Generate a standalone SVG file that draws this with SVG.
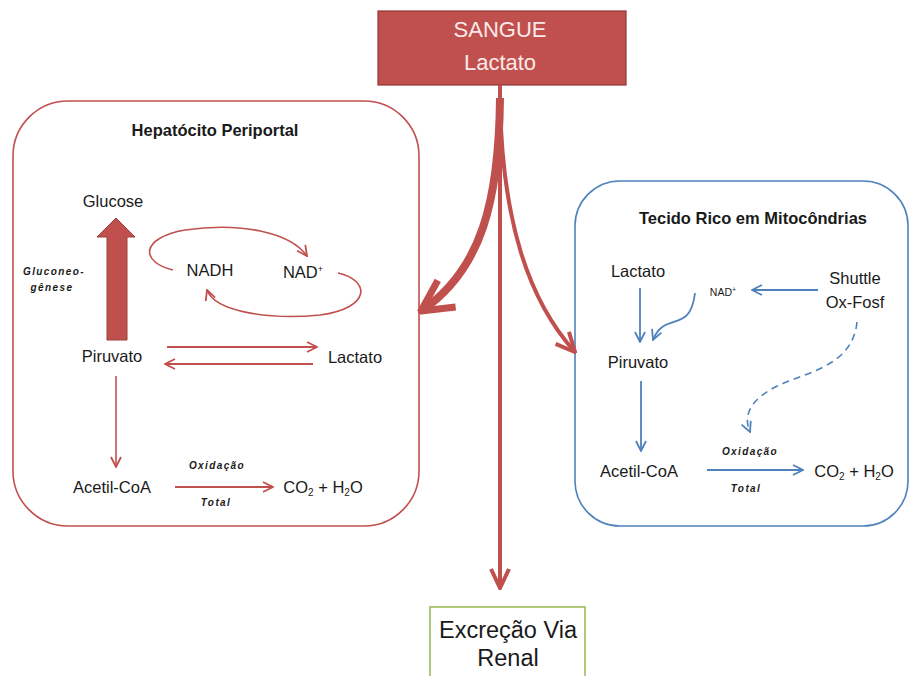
<svg xmlns="http://www.w3.org/2000/svg" width="911" height="676" viewBox="0 0 911 676">
<style>
text{font-family:"Liberation Sans",Arial,sans-serif;fill:#1a1a1a;text-anchor:middle}
.lbl{font-size:16.5px}
.ttl{font-size:16.5px;font-weight:bold}
.sm{font-size:10px;font-style:italic;font-weight:bold;letter-spacing:1.4px}
.big{font-size:22px}
.r{stroke:#c0504d;fill:none}
.b{stroke:#4f81bd;fill:none}
</style>
<defs>
<marker id="ar" viewBox="0 0 12 12" refX="11" refY="6" markerWidth="12" markerHeight="12" markerUnits="userSpaceOnUse" orient="auto"><path d="M1,1 L11,6 L1,11" fill="none" stroke="#c0504d" stroke-width="1.8"/></marker>
<marker id="ab" viewBox="0 0 12 12" refX="11" refY="6" markerWidth="12" markerHeight="12" markerUnits="userSpaceOnUse" orient="auto"><path d="M1,1 L11,6 L1,11" fill="none" stroke="#4f81bd" stroke-width="1.8"/></marker>
<marker id="arM" viewBox="0 0 24 24" refX="22" refY="12" markerWidth="24" markerHeight="24" markerUnits="userSpaceOnUse" orient="auto"><path d="M3,3 L22,12 L3,21" fill="none" stroke="#c0504d" stroke-width="4"/></marker>
<marker id="arL" viewBox="0 0 40 40" refX="37" refY="20" markerWidth="40" markerHeight="40" markerUnits="userSpaceOnUse" orient="auto"><path d="M6,4 L37,20 L6,36" fill="none" stroke="#c0504d" stroke-width="7"/></marker>
</defs>

<g id="hepatocito">
<rect x="13" y="101" width="406" height="425" rx="55" ry="55" fill="#fff" stroke="#c0504d" stroke-width="1.6"/>
<text class="ttl" x="215" y="136">Hepatócito Periportal</text>
</g>
<g id="tecido">
<rect x="575" y="181" width="333" height="345" rx="45" ry="45" fill="#fff" stroke="#4f81bd" stroke-width="1.6"/>
<text class="ttl" x="753" y="224">Tecido Rico em Mitocôndrias</text>
</g>

<g id="sangue">
<rect x="378" y="11" width="248" height="74" fill="#c0504d" stroke="#8c3836" stroke-width="1.2"/>
<text class="big" x="500" y="37" style="fill:#fbe9e9">SANGUE</text>
<text class="big" x="500" y="70" style="fill:#fbe9e9">Lactato</text>
</g>

<g id="excrecao">
<rect x="430" y="607" width="155" height="75" fill="#fff" stroke="#9bbb59" stroke-width="1.6"/>
<text class="big" x="508" y="638" style="font-size:23.5px">Excreção Via</text>
<text class="big" x="508" y="666" style="font-size:23.5px">Renal</text>
</g>

<g id="h-glucose"><text class="lbl" x="113" y="207">Glucose</text></g>
<g id="h-gluconeo"><text class="sm" x="54" y="275">Gluconeo-</text><text class="sm" x="52" y="291">gênese</text></g>
<g id="h-nadh"><text class="lbl" x="210" y="276">NADH</text></g>
<g id="h-nad"><text class="lbl" x="303" y="278">NAD<tspan font-size="9" dy="-6">+</tspan></text></g>
<g id="h-piruvato"><text class="lbl" x="112" y="362">Piruvato</text></g>
<g id="h-lactato"><text class="lbl" x="355" y="363">Lactato</text></g>
<g id="h-acetil"><text class="lbl" x="112" y="493">Acetil-CoA</text></g>
<g id="h-co2"><text class="lbl" x="323" y="493">CO<tspan font-size="10" dy="3">2</tspan><tspan dy="-3"> + H</tspan><tspan font-size="10" dy="3">2</tspan><tspan dy="-3">O</tspan></text></g>
<g id="h-ox"><text class="sm" x="217" y="469">Oxidação</text><text class="sm" x="216" y="506">Total</text></g>

<g id="t-lactato"><text class="lbl" x="638" y="277">Lactato</text></g>
<g id="t-nad"><text x="723" y="296" style="font-size:10.5px">NAD<tspan font-size="7" dy="-4">+</tspan></text></g>
<g id="t-shuttle"><text class="lbl" x="855" y="284">Shuttle</text><text class="lbl" x="855" y="308">Ox-Fosf</text></g>
<g id="t-piruvato"><text class="lbl" x="638" y="368">Piruvato</text></g>
<g id="t-acetil"><text class="lbl" x="639" y="477">Acetil-CoA</text></g>
<g id="t-co2"><text class="lbl" x="854" y="477">CO<tspan font-size="10" dy="3">2</tspan><tspan dy="-3"> + H</tspan><tspan font-size="10" dy="3">2</tspan><tspan dy="-3">O</tspan></text></g>
<g id="t-ox"><text class="sm" x="750" y="455">Oxidação</text><text class="sm" x="746" y="492">Total</text></g>

<g id="connectors">
<path class="r" d="M500,85 L500,588" stroke-width="4" marker-end="url(#arM)"/>
<path class="r" d="M500,98 C499,200 482,270 421,311" stroke-width="8" marker-end="url(#arL)"/>
<path class="r" d="M500,100 C502,220 528,300 575,352" stroke-width="4" marker-end="url(#arM)"/>
<polygon points="107,340 127,340 127,237 135,237 116,218 97,237 107,237" fill="#c0504d" stroke="#9e3e3b" stroke-width="1"/>
<path class="r" d="M173,270 C140,262 140,238 185,230 C240,222 290,232 307,256" stroke-width="1.6" marker-end="url(#ar)"/>
<path class="r" d="M338,273 C370,280 372,308 320,315 C270,320 215,312 207,290" stroke-width="1.6" marker-end="url(#ar)"/>
<path class="r" d="M167,347 L317,347" stroke-width="1.8" marker-end="url(#ar)"/>
<path class="r" d="M313,364 L165,364" stroke-width="1.8" marker-end="url(#ar)"/>
<path class="r" d="M116,376 L116,467" stroke-width="1.6" marker-end="url(#ar)"/>
<path class="r" d="M175,487 L273,487" stroke-width="1.8" marker-end="url(#ar)"/>
<path class="b" d="M640,288 L640,342" stroke-width="1.8" marker-end="url(#ab)"/>
<path class="b" d="M695,293 C690,335 665,310 653,340" stroke-width="1.8" marker-end="url(#ab)"/>
<path class="b" d="M818,290 L752,290" stroke-width="1.8" marker-end="url(#ab)"/>
<path class="b" d="M641,381 L641,451" stroke-width="1.8" marker-end="url(#ab)"/>
<path class="b" d="M707,470 L803,470" stroke-width="1.8" marker-end="url(#ab)"/>
<path class="b" d="M857,322 C852,370 800,372 770,390 C745,405 745,420 750,432" stroke-width="1.6" stroke-dasharray="7,5" marker-end="url(#ab)"/>
</g>
</svg>
